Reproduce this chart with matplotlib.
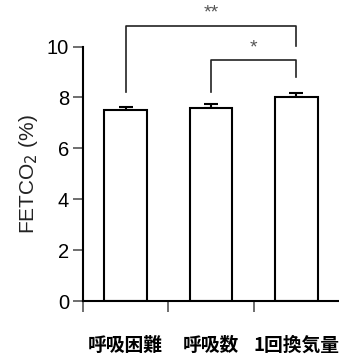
import matplotlib.pyplot as plt

plt.rcParams['font.family'] = ['Liberation Sans', 'Noto Sans CJK JP', 'DejaVu Sans']

# data
categories = ['呼吸困難', '呼吸数', '1回換気量']
means = [7.52, 7.58, 8.0]
errors = [0.1, 0.16, 0.16]
yticks = [0, 2, 4, 6, 8, 10]

fig = plt.figure(figsize=(3.39, 3.58), dpi=100)
ax = fig.add_axes([0.245, 0.159, 0.755, 0.711])

x = list(range(len(categories)))
ax.bar(x, means, width=0.5, color='white', edgecolor='black', linewidth=1.5, zorder=2)
ax.errorbar(x, means, yerr=[[0] * len(errors), errors], fmt='none', ecolor='black',
            elinewidth=1.5, capsize=5, capthick=1.5, zorder=1)

ax.set_xlim(-0.5, 2.5)
ax.set_ylim(0, 10)
ax.set_yticks(yticks)
ax.set_xticks(x)
ax.set_xticklabels(categories, fontsize=13.5, fontweight='bold', family=['Noto Sans CJK JP', 'DejaVu Sans'])
ax.set_xticks([-0.5, 0.5, 1.5], minor=True)
ax.tick_params(axis='x', which='major', length=0, pad=25)
ax.tick_params(axis='x', which='minor', length=8, width=1.2, color='#555555')
ax.tick_params(axis='y', length=7, width=1.2, color='#555555', labelsize=14.5, pad=3)

for side in ['top', 'right']:
    ax.spines[side].set_visible(False)
ax.spines['left'].set_linewidth(1.5)
ax.spines['bottom'].set_linewidth(1.5)

ax.set_ylabel('FETCO$_2$ (%)', fontsize=15, color='#222222', labelpad=5)

# significance brackets
ax.plot([0, 0, 2, 2], [8.2, 10.8, 10.8, 10.03], color='#222222', lw=1.2, clip_on=False)
ax.text(1, 11.3, '**', ha='center', va='center', fontsize=14, color='#555555')
ax.plot([1, 1, 2, 2], [8.2, 9.48, 9.48, 8.8], color='#222222', lw=1.2, clip_on=False)
ax.text(1.5, 9.95, '*', ha='center', va='center', fontsize=14, color='#555555')

fig.savefig('out.png', dpi=100)
